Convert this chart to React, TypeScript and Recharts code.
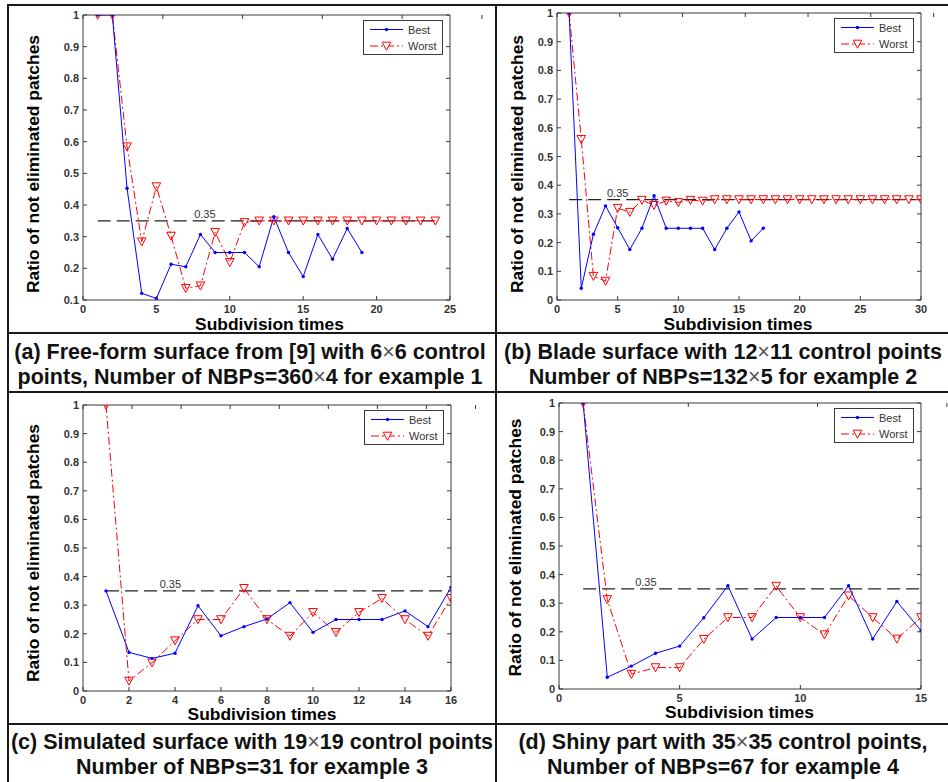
import React from 'react';
import { LineChart, Line, XAxis, YAxis, ReferenceLine, ReferenceDot, Legend, Label } from 'recharts';

const FONT = '"Liberation Sans", Arial, Helvetica, sans-serif';
const BLUE = '#0000ff';
const RED = '#ff0000';
const AXIS = '#3a3a3a';
const TEXT = '#333333';
const BORDER = '#1a1a1a';

// ---- data (ratio of not eliminated patches per subdivision time, starting at 1) ----
const bestA = [1.0, 1.0, 0.453, 0.121, 0.105, 0.213, 0.205, 0.307, 0.25, 0.25, 0.25, 0.205, 0.363, 0.25, 0.174, 0.307, 0.229, 0.326, 0.25];
const worstA = [1.0, 1.0, 0.584, 0.284, 0.458, 0.302, 0.137, 0.145, 0.314, 0.219, 0.345, 0.35, 0.35, 0.35, 0.35, 0.35, 0.35, 0.35, 0.35, 0.35, 0.35, 0.35, 0.35, 0.35];
const bestB = [1.0, 0.041, 0.229, 0.328, 0.252, 0.176, 0.25, 0.363, 0.25, 0.25, 0.25, 0.25, 0.176, 0.25, 0.307, 0.206, 0.25];
const worstB = [1.0, 0.56, 0.083, 0.066, 0.32, 0.306, 0.348, 0.33, 0.345, 0.34, 0.348, 0.345, 0.35, 0.35, 0.35, 0.35, 0.35, 0.35, 0.35, 0.35, 0.35, 0.35, 0.35, 0.35, 0.35, 0.35, 0.35, 0.35, 0.35, 0.35];
const bestC = [0.35, 0.135, 0.114, 0.132, 0.298, 0.193, 0.225, 0.252, 0.309, 0.205, 0.25, 0.25, 0.25, 0.28, 0.225, 0.362];
const worstC = [1.0, 0.035, 0.099, 0.176, 0.25, 0.25, 0.359, 0.25, 0.192, 0.275, 0.205, 0.275, 0.324, 0.25, 0.192, 0.324];
const bestD = [1.0, 0.041, 0.08, 0.125, 0.15, 0.249, 0.361, 0.175, 0.25, 0.25, 0.25, 0.361, 0.175, 0.306, 0.204];
const worstD = [1.0, 0.313, 0.052, 0.075, 0.075, 0.174, 0.25, 0.25, 0.36, 0.25, 0.19, 0.326, 0.25, 0.175, 0.25];

// ---- ticks ----
const xTicksA = [0, 5, 10, 15, 20, 25];
const xTicksB = [0, 5, 10, 15, 20, 25, 30];
const xTicksC = [0, 2, 4, 6, 8, 10, 12, 14, 16];
const xTicksD = [0, 5, 10, 15];
const yTicksA = [0.1, 0.2, 0.3, 0.4, 0.5, 0.6, 0.7, 0.8, 0.9, 1];
const yTicks01 = [0, 0.1, 0.2, 0.3, 0.4, 0.5, 0.6, 0.7, 0.8, 0.9, 1];

const THRESHOLD = 0.35;
const THRESHOLD_LABEL = '0.35';
const SERIES_NAMES = ['Best', 'Worst'];
const X_TITLE = 'Subdivision times';
const Y_TITLE = 'Ratio of not eliminated patches';

const captionA = ['(a) Free-form surface from [9] with 6×6 control', 'points, Number of NBPs=360×4 for example 1'];
const captionB = ['(b) Blade surface with 12×11 control points', 'Number of NBPs=132×5 for example 2'];
const captionC = ['(c) Simulated surface with 19×19 control points', 'Number of NBPs=31 for example 3'];
const captionD = ['(d) Shiny part with 35×35 control points,', 'Number of NBPs=67 for example 4'];

type Rect = { left: number; top: number; width: number; height: number };
type PanelCfg = {
  cell: Rect;
  plot: { x0: number; y0: number; x1: number; y1: number };
  xDomain: [number, number];
  xTicks: number[];
  yDomain: [number, number];
  yTicks: number[];
  best: number[];
  worst: number[];
  refStart: number;
  refEnd: number;
  refLabelX: number;
  yTitle: { x: number; y: number };
  xTitle: { x: number; y: number };
};

const panels: PanelCfg[] = [
  {
    cell: { left: 9, top: 6, width: 486, height: 334 },
    plot: { x0: 83, y0: 15, x1: 450, y1: 300 },
    xDomain: [0, 25], xTicks: xTicksA, yDomain: [0.1, 1], yTicks: yTicksA,
    best: bestA, worst: worstA, refStart: 1, refEnd: 24, refLabelX: 8.3,
    yTitle: { x: 38.5, y: 164 }, xTitle: { x: 269.5, y: 330 },
  },
  {
    cell: { left: 497, top: 6, width: 451, height: 334 },
    plot: { x0: 557, y0: 13, x1: 921, y1: 300 },
    xDomain: [0, 30], xTicks: xTicksB, yDomain: [0, 1], yTicks: yTicks01,
    best: bestB, worst: worstB, refStart: 1, refEnd: 30, refLabelX: 5,
    yTitle: { x: 522.5, y: 164 }, xTitle: { x: 738, y: 330 },
  },
  {
    cell: { left: 9, top: 393, width: 486, height: 338 },
    plot: { x0: 83, y0: 405, x1: 451, y1: 691 },
    xDomain: [0, 16], xTicks: xTicksC, yDomain: [0, 1], yTicks: yTicks01,
    best: bestC, worst: worstC, refStart: 1, refEnd: 16, refLabelX: 3.8,
    yTitle: { x: 38.5, y: 553 }, xTitle: { x: 262, y: 720 },
  },
  {
    cell: { left: 497, top: 393, width: 451, height: 338 },
    plot: { x0: 559, y0: 403, x1: 921, y1: 689 },
    xDomain: [0, 15], xTicks: xTicksD, yDomain: [0, 1], yTicks: yTicks01,
    best: bestD, worst: worstD, refStart: 1, refEnd: 15, refLabelX: 3.6,
    yTitle: { x: 520.5, y: 547.5 }, xTitle: { x: 739.5, y: 718 },
  },
];

const captions = [
  { lines: captionA, left: 6, width: 488, top: 339.5 },
  { lines: captionB, left: 497, width: 452, top: 339.5 },
  { lines: captionC, left: 8, width: 488, top: 729.5 },
  { lines: captionD, left: 497, width: 452, top: 729.5 },
];

const TICK_LEN = 4;
const AXIS_THICK = 1; // space reserved by each axis

const tickText = {
  fontFamily: FONT,
  fontSize: 11,
  fontWeight: 'bold' as const,
  fill: TEXT,
};

const BottomTick = (props: any) => {
  const { x, y, payload } = props;
  return (
    <g>
      <line x1={x} x2={x} y1={y} y2={y - TICK_LEN} stroke={AXIS} strokeWidth={1} />
      <text x={x} y={y + 12.5} textAnchor="middle" {...tickText}>{String(payload.value)}</text>
    </g>
  );
};
const TopTick = (props: any) => {
  const { x, y } = props;
  return <line x1={x} x2={x} y1={y} y2={y + TICK_LEN} stroke={AXIS} strokeWidth={1} />;
};
const LeftTick = (props: any) => {
  const { x, y, payload } = props;
  return (
    <g>
      <line x1={x} x2={x + TICK_LEN} y1={y} y2={y} stroke={AXIS} strokeWidth={1} />
      <text x={x - 4} y={y + 4} textAnchor="end" {...tickText}>{String(payload.value)}</text>
    </g>
  );
};
const RightTick = (props: any) => {
  const { x, y } = props;
  return <line x1={x} x2={x - TICK_LEN} y1={y} y2={y} stroke={AXIS} strokeWidth={1} />;
};

const triPath = (cx: number, cy: number) =>
  `M${cx - 4.3},${cy - 3.8}L${cx + 4.3},${cy - 3.8}L${cx},${cy + 4.2}Z`;

const TriDot = (props: any) => {
  const { cx, cy, index } = props;
  if (cx == null || cy == null || Number.isNaN(cy)) return <g key={`t${index}`} />;
  return <path key={`t${index}`} d={triPath(cx, cy)} fill="none" stroke={RED} strokeWidth={1} />;
};
const BlueDot = (props: any) => {
  const { cx, cy, index } = props;
  if (cx == null || cy == null || Number.isNaN(cy)) return <g key={`b${index}`} />;
  return <circle key={`b${index}`} cx={cx} cy={cy} r={1.7} fill={BLUE} stroke="none" />;
};

const LegendBox = () => (
  <svg width={80} height={35} style={{ display: 'block' }}>
    <rect x={0.5} y={0.5} width={79} height={34} fill="#ffffff" stroke={AXIS} strokeWidth={1} />
    <line x1={7} x2={40} y1={9.5} y2={9.5} stroke={BLUE} strokeWidth={1} />
    <circle cx={23.5} cy={9.5} r={1.7} fill={BLUE} />
    <text x={45} y={13.5} fontFamily={FONT} fontSize={11} fill={TEXT}>{SERIES_NAMES[0]}</text>
    <line x1={7} x2={40} y1={26} y2={26} stroke={RED} strokeWidth={1} strokeDasharray="8 3 2 3" />
    <path d={triPath(23.5, 26)} fill="#ffffff" stroke={RED} strokeWidth={1} />
    <text x={45} y={30} fontFamily={FONT} fontSize={11} fill={TEXT}>{SERIES_NAMES[1]}</text>
  </svg>
);

function Panel({ p }: { p: PanelCfg }) {
  const margin = {
    left: p.plot.x0 - p.cell.left - AXIS_THICK,
    top: p.plot.y0 - p.cell.top - AXIS_THICK,
    right: p.cell.left + p.cell.width - p.plot.x1 - AXIS_THICK,
    bottom: p.cell.top + p.cell.height - p.plot.y1 - AXIS_THICK,
  };
  const n = Math.max(p.best.length, p.worst.length);
  const data = Array.from({ length: n }, (_, i) => ({
    x: i + 1,
    best: i < p.best.length ? p.best[i] : null,
    worst: i < p.worst.length ? p.worst[i] : null,
  }));
  const yt = { x: p.yTitle.x - p.cell.left, y: p.yTitle.y - p.cell.top };
  const xt = { x: p.xTitle.x - p.cell.left, y: p.xTitle.y - p.cell.top };
  const legendLeft = p.plot.x1 - p.cell.left - 7 - 80;
  const legendTop = p.plot.y0 - p.cell.top + 5;

  return (
    <div style={{ position: 'absolute', left: p.cell.left, top: p.cell.top }}>
      <LineChart width={p.cell.width} height={p.cell.height} data={data} margin={margin}>
        <XAxis
          xAxisId="b" dataKey="x" type="number" domain={p.xDomain} ticks={p.xTicks}
          allowDataOverflow interval={0} height={AXIS_THICK} tickSize={0} tickMargin={0}
          tickLine={false} tick={<BottomTick />} axisLine={{ stroke: AXIS, strokeWidth: 1 }}
        >
          <Label
            content={() => (
              <text x={xt.x} y={xt.y} textAnchor="middle" fontFamily={FONT} fontSize={17.4} fontWeight="bold" fill="#000">
                {X_TITLE}
              </text>
            )}
          />
        </XAxis>
        <XAxis
          xAxisId="t" orientation="top" type="number" domain={p.xDomain} ticks={p.xTicks}
          allowDataOverflow interval={0} height={AXIS_THICK} tickSize={0} tickMargin={0}
          tickLine={false} tick={<TopTick />} axisLine={{ stroke: AXIS, strokeWidth: 1 }}
        />
        <YAxis
          yAxisId="l" type="number" domain={p.yDomain} ticks={p.yTicks}
          allowDataOverflow interval={0} width={AXIS_THICK} tickSize={0} tickMargin={0}
          tickLine={false} tick={<LeftTick />} axisLine={{ stroke: AXIS, strokeWidth: 1 }}
        >
          <Label
            content={() => (
              <text
                x={yt.x} y={yt.y} textAnchor="middle" fontFamily={FONT} fontSize={17.4} fontWeight="bold" fill="#000"
                transform={`rotate(-90, ${yt.x}, ${yt.y})`}
              >
                {Y_TITLE}
              </text>
            )}
          />
        </YAxis>
        <YAxis
          yAxisId="r" orientation="right" type="number" domain={p.yDomain} ticks={p.yTicks}
          allowDataOverflow interval={0} width={AXIS_THICK} tickSize={0} tickMargin={0}
          tickLine={false} tick={<RightTick />} axisLine={{ stroke: AXIS, strokeWidth: 1 }}
        />
        <ReferenceLine
          xAxisId="b" yAxisId="l"
          segment={[{ x: p.refStart, y: THRESHOLD }, { x: p.refEnd, y: THRESHOLD }]}
          stroke="#222222" strokeWidth={1.2} strokeDasharray="13 6"
        />
        <ReferenceDot
          xAxisId="b" yAxisId="l" x={p.refLabelX} y={THRESHOLD} r={0} stroke="none" fill="none"
          label={{ value: THRESHOLD_LABEL, position: 'top', offset: 3, fill: TEXT, fontSize: 11, fontFamily: FONT }}
        />
        <Line
          xAxisId="b" yAxisId="l" dataKey="worst" name={SERIES_NAMES[1]} type="linear"
          stroke={RED} strokeWidth={1} strokeDasharray="8 3 2 3" dot={TriDot} activeDot={false}
          isAnimationActive={false} connectNulls={false}
        />
        <Line
          xAxisId="b" yAxisId="l" dataKey="best" name={SERIES_NAMES[0]} type="linear"
          stroke={BLUE} strokeWidth={1} dot={BlueDot} activeDot={false}
          isAnimationActive={false} connectNulls={false}
        />
        <Legend
          layout="vertical" align="center" verticalAlign="middle"
          wrapperStyle={{ position: 'absolute', left: legendLeft, top: legendTop, width: 80, height: 35 }}
          content={() => <LegendBox />}
        />
      </LineChart>
    </div>
  );
}

const CaptionLine = ({ text }: { text: string }) => {
  const parts = text.split('×');
  return (
    <div>
      {parts.map((s, i) => (
        <React.Fragment key={i}>
          {i > 0 && <span style={{ fontWeight: 'normal', color: '#555' }}>×</span>}
          {s}
        </React.Fragment>
      ))}
    </div>
  );
};

export default function App() {
  const hLine = (top: number) => (
    <div key={`h${top}`} style={{ position: 'absolute', left: 7, top, width: 941, height: 2, background: BORDER }} />
  );
  const vLine = (left: number) => (
    <div key={`v${left}`} style={{ position: 'absolute', left, top: 4, width: 2, height: 778, background: BORDER }} />
  );
  return (
    <div
      style={{
        position: 'absolute', left: 0, top: 0, width: 948, height: 782,
        background: '#ffffff', overflow: 'hidden', fontFamily: FONT,
      }}
    >
      {panels.map((p, i) => (
        <Panel key={i} p={p} />
      ))}
      {captions.map((c, i) => (
        <div
          key={`c${i}`}
          style={{
            position: 'absolute', left: c.left, top: c.top, width: c.width, textAlign: 'center',
            fontFamily: FONT, fontWeight: 'bold', fontSize: 21.5, lineHeight: '25px', color: '#111',
            whiteSpace: 'nowrap', background: 'transparent',
          }}
        >
          <CaptionLine text={c.lines[0]} />
          <CaptionLine text={c.lines[1]} />
        </div>
      ))}
      {[4, 332, 391, 723].map(hLine)}
      {[7, 495].map(vLine)}
    </div>
  );
}
